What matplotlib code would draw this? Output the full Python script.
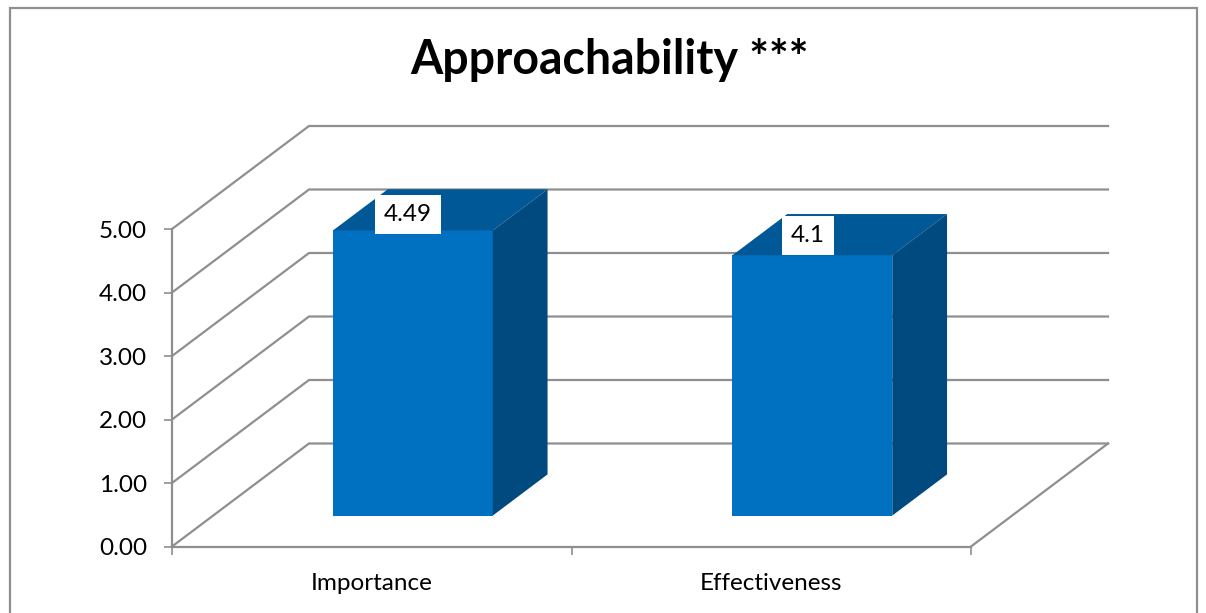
import matplotlib
matplotlib.use('Agg')
from matplotlib import pyplot as plt
from matplotlib.patches import Polygon, Rectangle

categories = ['Importance', 'Effectiveness']
values = [4.49, 4.1]
value_labels = ['4.49', '4.1']
yticks = [0, 1, 2, 3, 4, 5]

W, H = 1206, 613
GRAY = '#8f8f8f'
FRONT = '#0070c0'
TOP = '#005896'
SIDE = '#004a80'

plt.rcParams['font.family'] = ['Lato', 'DejaVu Sans']

fig = plt.figure(figsize=(W / 100, H / 100), dpi=100)
fig.patch.set_facecolor('white')

# chart frame, runs off the bottom of the image
fig.add_artist(Rectangle((9.5 / W, -0.05), (1197 - 9.5) / W, 1.05 - 7.5 / H,
                         fill=False, ec=GRAY, lw=1.6, transform=fig.transFigure))

# front plane of the fake 3d box: x 172..971, y 546.5..229
ax = fig.add_axes([172 / W, 1 - 546.5 / H, 799 / W, 317.5 / H])
ax.set_xlim(0, 2)
ax.set_ylim(0, 5)
ax.patch.set_visible(False)

# depth runs 0 (front) .. 1 (back wall)
DX = 137 / 399.5
DY = 103 / 63.5

def proj(x, y, d):
    return x + DX * d, y + DY * d

def line(pts):
    xs, ys = zip(*[proj(*p) for p in pts])
    ax.plot(xs, ys, color=GRAY, lw=1.6, clip_on=False, zorder=1, solid_joinstyle='miter')

for v in yticks:
    line([(0, v, 0), (0, v, 1), (2, v, 1)])
line([(2, 0, 0), (2, 0, 1)])

def face(pts, color):
    ax.add_patch(Polygon([proj(*p) for p in pts], closed=True, fc=color, ec='none',
                         clip_on=False, zorder=3))

bar_w = 0.4
label_offsets = [(-3.5, 11.5), (-3, 14)]
for i, v in enumerate(values):
    x0 = i + 0.5 - bar_w / 2
    x1 = x0 + bar_w
    d0, d1 = 0.3, 0.7
    face([(x0, 0, d0), (x1, 0, d0), (x1, v, d0), (x0, v, d0)], FRONT)
    face([(x0, v, d0), (x1, v, d0), (x1, v, d1), (x0, v, d1)], TOP)
    face([(x1, 0, d0), (x1, 0, d1), (x1, v, d1), (x1, v, d0)], SIDE)
    tx, ty = proj(i + 0.5, v, d0)
    ax.annotate(value_labels[i], (tx, ty), xytext=label_offsets[i], textcoords='offset points',
                ha='center', va='center', fontsize=17.5, color='black', zorder=4,
                bbox=dict(boxstyle='square,pad=0.37', fc='white', ec='none'))

for s in ['top', 'right']:
    ax.spines[s].set_visible(False)
for s in ['left', 'bottom']:
    ax.spines[s].set_color(GRAY)
    ax.spines[s].set_linewidth(1.6)

ax.set_yticks(yticks)
ax.set_yticklabels(['%.2f' % v for v in yticks], fontsize=17.5)
ax.tick_params(axis='y', length=6, width=1.2, color=GRAY, pad=12)
ax.set_xticks([0, 1, 2])
ax.set_xticklabels([])
ax.tick_params(axis='x', length=5.5, width=1.2, color=GRAY)
ax.set_xticks([0.5, 1.5], minor=True)
ax.set_xticklabels(categories, minor=True, fontsize=17.5)
ax.tick_params(axis='x', which='minor', length=0, pad=19)

fig.text(610 / W, 1 - 60 / H, 'Approachability ***', fontsize=33.5, fontweight='bold',
         ha='center', va='center', color='black')

fig.savefig('out.png', dpi=100)
